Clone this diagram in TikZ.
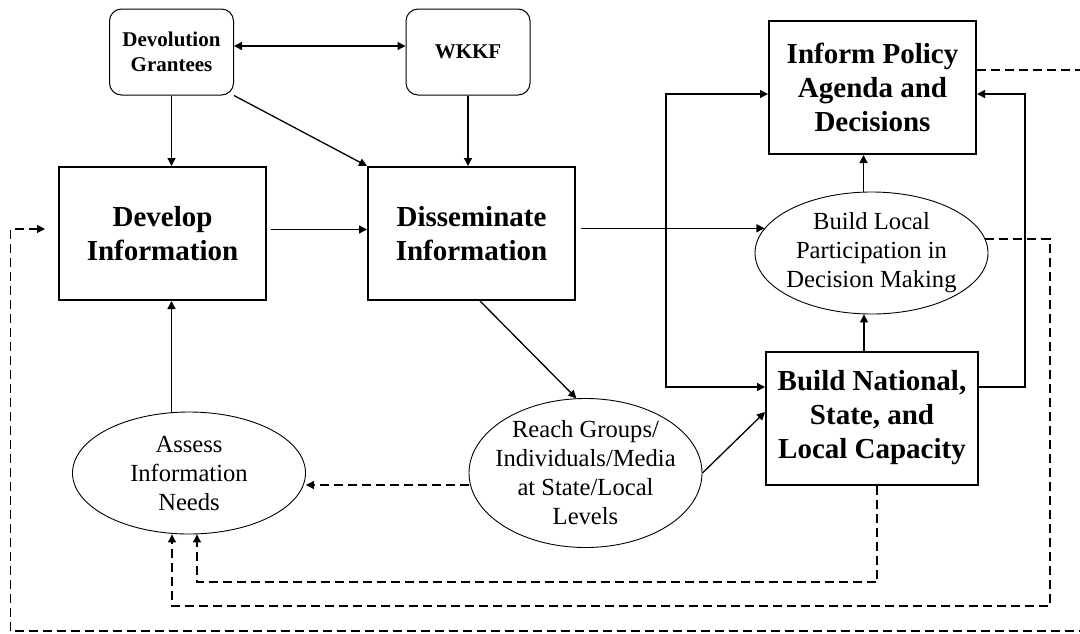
\documentclass[tikz,border=0pt]{standalone}
\usepackage{fontspec}
\setmainfont{Liberation Serif}
\usetikzlibrary{shapes,arrows.meta}

\begin{document}
\begin{tikzpicture}[x=0.5pt, y=-0.5pt, >={Triangle[length=4pt,width=4pt]},
  fund/.style={draw, rounded corners=6pt, line width=0.5pt, minimum width=62pt, minimum height=43pt, align=center, font=\fontsize{10.5}{12.5}\selectfont\bfseries},
  stage/.style={draw, line width=1pt, minimum width=103.5pt, minimum height=66.5pt, align=center, font=\fontsize{14.5}{17}\selectfont\bfseries},
  goal/.style={draw, ellipse, line width=0.45pt, minimum width=116.5pt, minimum height=61pt, inner xsep=-15pt, inner ysep=-2pt, align=center, font=\fontsize{12.3}{14.5}\selectfont},
  link/.style={->, line width=0.65pt},
  fb/.style={->, line width=0.55pt, dash pattern=on 4.5pt off 2.5pt}]
\useasboundingbox (0,0) rectangle (1080,633);
\clip (0,0) rectangle (1080,633);
\node[fund] (grantees) at (171.5,52) {Devolution\\Grantees};
\node[fund] (wkkf) at (468,52) {WKKF};
\node[stage] (develop) at (162.5,233.5) {Develop\\Information};
\node[stage] (dissem) at (471.5,233.5) {Disseminate\\Information};
\node[stage] (inform) at (872.5,87.5) {Inform Policy\\Agenda and\\Decisions};
\node[goal] (local) at (871.5,253) {Build Local\\Participation in\\Decision Making};
\node[stage, minimum width=106pt] (capacity) at (872,418) {Build National,\\State, and\\Local Capacity};
\node[goal, minimum height=74.5pt] (reach) at (585.5,473) {Reach Groups/\\Individuals/Media\\at State/Local\\Levels};
\node[goal] (assess) at (189,473) {Assess\\Information\\Needs};
\coordinate (lbus) at (666,240);
\coordinate (rbus) at (1025,240);
\coordinate (ibus) at (0,582);
\coordinate (obus) at (1050,606);
\coordinate (frame) at (1095,631);
\coordinate (fleft) at (10.5,631);
\draw[link, <->] ([yshift=3pt]grantees.east) -- ([yshift=3pt]wkkf.west);
\draw[link] (grantees.south) -- (grantees.south |- develop.north);
\draw[link] (grantees.south east) -- (dissem.north west);
\draw[link] (wkkf.south) -- (wkkf.south |- dissem.north);
\draw[link, shorten <=2pt] ([yshift=2pt]develop.east) -- ([yshift=2pt]dissem.west);
\draw[link, shorten <=2.5pt] (dissem.east |- local.167) -- (local.167);
\draw[link, <->] ([yshift=-3.25pt]inform.west) -| (lbus) |- ([yshift=15.5pt]capacity.west);
\draw[link] ([yshift=15.5pt]capacity.east) -| (rbus) |- ([yshift=-3.25pt]inform.east);
\draw[link] ([xshift=-4pt]capacity.north) -- ([xshift=-4pt]capacity.north |- local.south);
\draw[link] ([xshift=-4pt]local.north) -- ([xshift=-4pt]local.north |- inform.south);
\draw[link] ([xshift=4.25pt]dissem.south) -- (reach.97);
\draw[link] (reach.east) -- ([yshift=3pt]capacity.west);
\draw[link] (assess.north -| grantees.south) -- (develop.south -| grantees.south);
\draw[fb] ([yshift=-6pt]reach.west) -- ([yshift=-6pt]assess.east);
\draw[fb] ([xshift=2.5pt]capacity.south) -- ([xshift=2.5pt]capacity.south |- ibus) -| ([xshift=4pt]assess.south);
\draw[fb] (local.7) -| (obus) -| ([xshift=-8.5pt]assess.south);
\draw[fb, shorten >=6.5pt] ([yshift=8.75pt]inform.east) -| (frame) -| (fleft) |- ([yshift=2.25pt]develop.west);
\end{tikzpicture}
\end{document}
